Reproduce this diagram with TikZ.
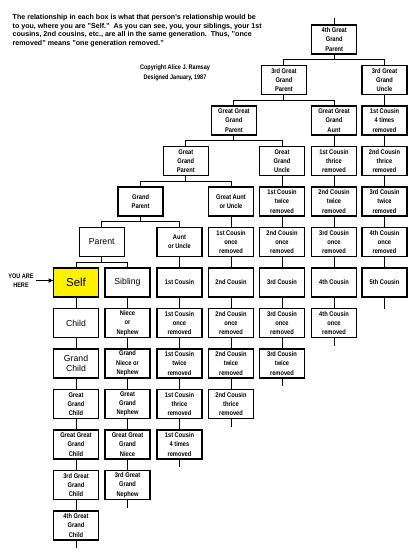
\documentclass[tikz,border=0pt]{standalone}
\usepackage{fontspec}
\setmainfont{Liberation Sans}
\newfontfamily\narrowfont[FakeStretch=0.84]{Liberation Sans}
\usepackage{tikz}
\usetikzlibrary{positioning,arrows.meta,calc}
\tikzset{
  rel/.style={rectangle,draw=black,line width=1.3pt,fill=white,
    minimum width=45pt,minimum height=29pt,inner sep=1pt,outer sep=0pt,
    align=center,font=\narrowfont\bfseries\fontsize{6.8}{9.3}\selectfont},
  relbig/.style={rel,font=\fontsize{8.7}{10.5}\selectfont},
  selfbox/.style={rel,fill=yellow,font=\fontsize{11.5}{13}\selectfont},
  ln/.style={line width=1pt,draw=black},
  ar/.style={-{Latex[length=5pt,width=5pt]},line width=1.2pt,draw=black},
  note/.style={font=\narrowfont\bfseries\fontsize{6.6}{9}\selectfont,
    align=center,inner sep=2pt},
}
% parent box over two children: bar halfway between the rows
\newcommand{\fork}[3]{%
  \draw[ln] (#2.north) -- ++(0,-6) coordinate (bar) -| (#3.north);
  \draw[ln] (#1.south) -- (#1.south |- bar);}

\begin{document}
\begin{tikzpicture}[x=1pt,y=-1pt,node distance=11.5pt]
  \fill[white] (0,0) rectangle (420,558);
  \useasboundingbox (0,0) rectangle (420,558);

  % heading
  \node[anchor=north west,align=left,inner sep=0pt,
    font=\bfseries\fontsize{7.1}{8.8}\selectfont] (intro) at (12.5,14)
    {The relationship in each box is what that person's relationship would be\\
     to you, where you are "Self."\ \ As you can see, you, your siblings, your 1st\\
     cousins, 2nd cousins, etc., are all in the same generation.\ \ Thus, "once\\
     removed" means "one generation removed."};
  \node[note,font=\narrowfont\bfseries\fontsize{6.6}{10}\selectfont] (credit) at (175,73)
    {Copyright Alice J. Ramsay\\Designed January, 1987};

  % self and descendants
  \node[selfbox] (a0) at (76,282.5) {Self};
  \foreach \s/\txt [count=\i, evaluate=\i as \j using int(\i-1)] in
    {relbig/Child, relbig/{Grand\\Child}, rel/{Great\\Grand\\Child},
     rel/{Great Great\\Grand\\Child}, rel/{3rd Great\\Grand\\Child},
     rel/{4th Great\\Grand\\Child}}
    {\node[\s,below=of a\j] (a\i) {\txt};
     \draw[ln] (a\j) -- (a\i);}
  \draw[ln] (a6.south) -- ++(0,8);

  % sibling line
  \node[relbig,right=6.5pt of a0] (b0) {Sibling};
  \foreach \txt [count=\i, evaluate=\i as \j using int(\i-1)] in
    {{Niece\\or\\Nephew}, {Grand\\Niece or\\Nephew}, {Great\\Grand\\Nephew},
     {Great Great\\Grand\\Niece}, {3rd Great\\Grand\\Nephew}}
    {\node[rel,below=of b\j] (b\i) {\txt};
     \draw[ln] (b\j) -- (b\i);}
  \draw[ln] (b5.south) -- ++(0,8);

  % aunt or uncle line
  \node[rel] (c0) at (179.5,242) {Aunt\\or Uncle};
  \foreach \txt [count=\i, evaluate=\i as \j using int(\i-1)] in
    {{1st Cousin}, {1st Cousin\\once\\removed}, {1st Cousin\\twice\\removed},
     {1st Cousin\\thrice\\removed}, {1st Cousin\\4 times\\removed}}
    {\node[rel,below=of c\j] (c\i) {\txt};
     \draw[ln] (c\j) -- (c\i);}
  \draw[ln] (c5.south) -- ++(0,8);

  % great aunt line
  \node[rel] (d0) at (231,201.5) {Great Aunt\\or Uncle};
  \foreach \txt [count=\i, evaluate=\i as \j using int(\i-1)] in
    {{1st Cousin\\once\\removed}, {2nd Cousin}, {2nd Cousin\\once\\removed},
     {2nd Cousin\\twice\\removed}, {2nd Cousin\\thrice\\removed}}
    {\node[rel,below=of d\j] (d\i) {\txt};
     \draw[ln] (d\j) -- (d\i);}
  \draw[ln] (d5.south) -- ++(0,8);

  % great grand uncle line
  \node[rel] (e0) at (282,161) {Great\\Grand\\Uncle};
  \foreach \txt [count=\i, evaluate=\i as \j using int(\i-1)] in
    {{1st Cousin\\twice\\removed}, {2nd Cousin\\once\\removed}, {3rd Cousin},
     {3rd Cousin\\once\\removed}, {3rd Cousin\\twice\\removed}}
    {\node[rel,below=of e\j] (e\i) {\txt};
     \draw[ln] (e\j) -- (e\i);}
  \draw[ln] (e5.south) -- ++(0,8);

  % great great grand aunt line
  \node[rel] (f0) at (334,120.5) {Great Great\\Grand\\Aunt};
  \foreach \txt [count=\i, evaluate=\i as \j using int(\i-1)] in
    {{1st Cousin\\thrice\\removed}, {2nd Cousin\\twice\\removed},
     {3rd Cousin\\once\\removed}, {4th Cousin}, {4th Cousin\\once\\removed}}
    {\node[rel,below=of f\j] (f\i) {\txt};
     \draw[ln] (f\j) -- (f\i);}
  \draw[ln] (f5.south) -- ++(0,8);

  % 3rd great grand uncle line
  \node[rel] (g0) at (384.5,80) {3rd Great\\Grand\\Uncle};
  \foreach \txt [count=\i, evaluate=\i as \j using int(\i-1)] in
    {{1st Cousin\\4 times\\removed}, {2nd Cousin\\thrice\\removed},
     {3rd Cousin\\twice\\removed}, {4th Cousin\\once\\removed}, {5th Cousin}}
    {\node[rel,below=of g\j] (g\i) {\txt};
     \draw[ln] (g\j) -- (g\i);}
  \draw[ln] (g5.south) -- ++(0,12);

  % ancestors
  \node[relbig,above=of {$(a0.north)!0.5!(b0.north)$}] (par) {Parent};
  \node[rel,above=of {$(par.north)!0.5!(c0.north)$}] (gpar) {Grand\\Parent};
  \node[rel,above=of {$(gpar.north)!0.5!(d0.north)$}] (ggpar) {Great\\Grand\\Parent};
  \node[rel,above=of {$(ggpar.north)!0.5!(e0.north)$}] (g2par) {Great Great\\Grand\\Parent};
  \node[rel,above=of {$(g2par.north)!0.5!(f0.north)$}] (g3par) {3rd Great\\Grand\\Parent};
  \node[rel,above=of {$(g3par.north)!0.5!(g0.north)$}] (g4par) {4th Great\\Grand\\Parent};
  \draw[ln] (g4par.north) -- ++(0,-7);

  \fork{par}{a0}{b0}
  \fork{gpar}{par}{c0}
  \fork{ggpar}{gpar}{d0}
  \fork{g2par}{ggpar}{e0}
  \fork{g3par}{g2par}{f0}
  \fork{g4par}{g3par}{g0}

  % pointer to self
  \node[note] (here) at (21,280.5) {YOU ARE\\HERE};
  \draw[ar] (here.east) -- (here.east -| a0.west);
\end{tikzpicture}
\end{document}
